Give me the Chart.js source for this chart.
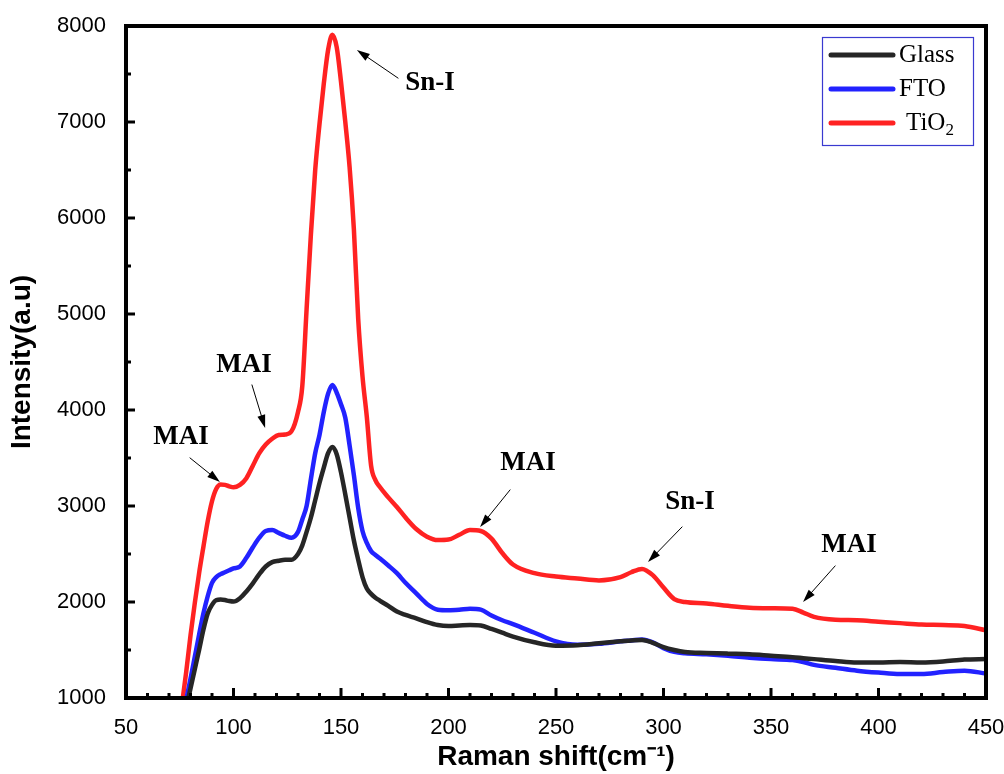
<!DOCTYPE html>
<html>
<head>
<meta charset="utf-8">
<title>Raman spectra</title>
<script src="https://cdn.jsdelivr.net/npm/chart.js@4.4.1/dist/chart.umd.min.js"></script>
<style>
  html, body { margin: 0; padding: 0; background: #fff; }
  #wrap { width: 1004px; height: 774px; }
</style>
</head>
<body>
<div id="wrap"><canvas id="raman" width="1004" height="774"></canvas></div>
<script>
// Raman shift (cm-1)
var shift = [76, 78, 80, 82, 84, 86, 88, 90, 92, 94, 96, 98, 100,
    103, 106, 109, 112, 115, 118, 121, 124, 127, 130,
    132, 134, 136, 138, 140, 142, 144, 146, 148, 150, 152, 154, 156, 158, 160, 162, 164, 166, 168,
    172, 176, 180,
    185, 190, 195, 200, 205, 210, 215, 220, 225, 230,
    240, 250, 260, 270, 280,
    285, 290, 295, 300, 305, 310,
    320, 330, 340, 350, 360,
    365, 370,
    380, 390, 400, 410, 420, 430, 440, 450];

var glass = [700, 900, 1100, 1300, 1500, 1710, 1880, 1970, 2020, 2025, 2020, 2010, 2005,
    2040, 2110, 2195, 2290, 2370, 2415, 2430, 2440, 2440, 2500,
    2590, 2730, 2880, 3060, 3240, 3400, 3550, 3615, 3540, 3350, 3120, 2880, 2640, 2440, 2260, 2140, 2085, 2045, 2015,
    1960, 1900, 1865,
    1830, 1790, 1760, 1750, 1755, 1760, 1755, 1720, 1680, 1640,
    1580, 1545, 1550, 1570, 1590,
    1600, 1605, 1575, 1530, 1500, 1480,
    1470, 1462, 1455, 1440, 1425,
    1415, 1405,
    1385, 1370, 1370, 1375, 1370, 1380, 1400, 1405];

var fto = [750, 980, 1200, 1430, 1660, 1880, 2060, 2200, 2260, 2290, 2310, 2330, 2350,
    2370, 2460, 2570, 2670, 2740, 2750, 2720, 2690, 2670, 2730,
    2860, 3000, 3280, 3550, 3740, 3980, 4170, 4260, 4180, 4060, 3920, 3630, 3320, 2980, 2740, 2615, 2530, 2490, 2455,
    2380, 2300, 2200,
    2090, 1980, 1920, 1915, 1920, 1930, 1920, 1860, 1810, 1770,
    1680, 1590, 1555, 1565, 1590,
    1600, 1610, 1580, 1520, 1480, 1465,
    1455, 1440, 1420, 1405, 1395,
    1375, 1345,
    1315, 1285, 1265, 1250, 1250, 1270, 1285, 1255];

var tio2 = [930, 1270, 1650, 1990, 2300, 2575, 2840, 3050, 3180, 3225, 3220, 3205, 3195,
    3220, 3290, 3420, 3550, 3640, 3700, 3740, 3745, 3780, 3980,
    4250, 5050, 5830, 6500, 6980, 7400, 7750, 7910, 7780, 7420, 7000, 6530, 5880, 4950, 4350, 3930, 3420, 3270, 3200,
    3090, 2990, 2880,
    2760, 2680, 2645, 2650, 2700, 2750, 2740, 2660, 2510, 2390,
    2300, 2265, 2245, 2225, 2260,
    2310, 2345, 2280, 2150, 2030, 2000,
    1985, 1960, 1940, 1935, 1930,
    1890, 1845,
    1815, 1810, 1795, 1780, 1765, 1760, 1750, 1705];

var seriesNames = ["Glass", "FTO", "TiO2"];
var seriesColors = ["#262626", "#2222ff", "#ff2222"];

// peak labels: text position and arrow tail/head, in data units
var notes = [
    { text: "Sn-I", tx: 191.4, ty: 7406, x1: 176.5, y1: 7458, x2: 157.4, y2: 7750 },
    { text: "MAI", tx: 75.6, ty: 3719, x1: 79.8, y1: 3500, x2: 93.7, y2: 3250 },
    { text: "MAI", tx: 104.9, ty: 4469, x1: 108.6, y1: 4260, x2: 114.7, y2: 3813 },
    { text: "MAI", tx: 237, ty: 3448, x1: 228.6, y1: 3167, x2: 214.7, y2: 2781 },
    { text: "Sn-I", tx: 312.3, ty: 3042, x1: 308.6, y1: 2781, x2: 292.8, y2: 2417 },
    { text: "MAI", tx: 386.3, ty: 2594, x1: 379.8, y1: 2375, x2: 364.9, y2: 2000 }
];

function pts(vals) {
    return shift.map(function (s, i) { return { x: s, y: vals[i] }; });
}

var frame = {
    id: "frame",
    afterDatasetsDraw: function (chart) {
        var ctx = chart.ctx, a = chart.chartArea;
        var xs = chart.scales.x, ys = chart.scales.y;
        ctx.save();
        ctx.strokeStyle = "#000";

        // inward ticks on the left and bottom axes
        ctx.lineWidth = 3;
        var v, p, len;
        for (v = 1000; v <= 8000; v += 500) {
            p = ys.getPixelForValue(v);
            len = v % 1000 === 0 ? 9 : 5;
            ctx.beginPath(); ctx.moveTo(a.left, p); ctx.lineTo(a.left + len, p); ctx.stroke();
        }
        for (v = 50; v <= 450; v += 10) {
            p = xs.getPixelForValue(v);
            len = v % 50 === 0 ? 10 : 5;
            ctx.beginPath(); ctx.moveTo(p, a.bottom); ctx.lineTo(p, a.bottom - len); ctx.stroke();
        }

        ctx.lineWidth = 4;
        ctx.lineCap = "square";
        ctx.strokeRect(a.left, a.top, a.right - a.left, a.bottom - a.top);

        // arrows and labels
        ctx.fillStyle = "#000";
        ctx.font = "bold 27px 'Liberation Serif', serif";
        ctx.textAlign = "center";
        ctx.textBaseline = "middle";
        notes.forEach(function (n) {
            ctx.fillText(n.text, xs.getPixelForValue(n.tx), ys.getPixelForValue(n.ty));
            var x1 = xs.getPixelForValue(n.x1), y1 = ys.getPixelForValue(n.y1);
            var x2 = xs.getPixelForValue(n.x2), y2 = ys.getPixelForValue(n.y2);
            var ang = Math.atan2(y2 - y1, x2 - x1);
            ctx.lineWidth = 1;
            ctx.beginPath(); ctx.moveTo(x1, y1);
            ctx.lineTo(x2 - 10 * Math.cos(ang), y2 - 10 * Math.sin(ang)); ctx.stroke();
            ctx.beginPath();
            ctx.moveTo(x2, y2);
            ctx.lineTo(x2 - 13 * Math.cos(ang) + 4 * Math.sin(ang), y2 - 13 * Math.sin(ang) - 4 * Math.cos(ang));
            ctx.lineTo(x2 - 13 * Math.cos(ang) - 4 * Math.sin(ang), y2 - 13 * Math.sin(ang) + 4 * Math.cos(ang));
            ctx.closePath(); ctx.fill();
        });

        // legend box
        ctx.lineWidth = 1.2;
        ctx.strokeStyle = "#3a3ad0";
        ctx.strokeRect(822.5, 37.5, 151, 108);
        ctx.textAlign = "left";
        ctx.font = "25px 'Liberation Serif', serif";
        seriesNames.forEach(function (name, i) {
            var y = 55 + i * 34;
            ctx.strokeStyle = seriesColors[i];
            ctx.lineWidth = 5;
            ctx.lineCap = "round";
            ctx.beginPath(); ctx.moveTo(831, y); ctx.lineTo(893, y); ctx.stroke();
            ctx.fillStyle = "#000";
            if (name === "TiO2") {
                ctx.fillText("TiO", 906, y);
                var w = ctx.measureText("TiO").width;
                ctx.font = "17px 'Liberation Serif', serif";
                ctx.fillText("2", 906 + w, y + 8);
                ctx.font = "25px 'Liberation Serif', serif";
            } else {
                ctx.fillText(name, 899, y);
            }
        });
        ctx.restore();
    }
};

var ctx = document.getElementById("raman").getContext("2d");
var ramanChart = new Chart(ctx, {
    type: "line",
    data: {
        datasets: [glass, fto, tio2].map(function (vals, i) {
            return {
                label: seriesNames[i],
                data: pts(vals),
                borderColor: seriesColors[i],
                borderWidth: 4.5,
                pointRadius: 0,
                fill: false,
                cubicInterpolationMode: "monotone"
            };
        })
    },
    options: {
        responsive: false,
        animation: false,
        layout: { padding: { top: 26, right: 18, left: 0, bottom: 0 } },
        plugins: { legend: { display: false }, tooltip: { enabled: false } },
        scales: {
            x: {
                type: "linear",
                min: 50, max: 450,
                grid: { display: false },
                border: { display: false },
                ticks: { stepSize: 50, color: "#000", padding: 9, font: { family: "'Liberation Sans', Arial", size: 22 },
                    callback: function (v) { return String(v); } },
                title: { display: true, text: "Raman shift(cm\u207B\u00B9)", color: "#000", padding: 0,
                    font: { family: "'Liberation Sans', Arial", size: 28, weight: "bold" } },
                afterFit: function (s) { s.height = 76; s.paddingLeft = 0; s.paddingRight = 0; }
            },
            y: {
                min: 1000, max: 8000,
                grid: { display: false },
                border: { display: false },
                ticks: { stepSize: 1000, color: "#000", padding: 12, font: { family: "'Liberation Sans', Arial", size: 22 },
                    callback: function (v) { return String(v); } },
                title: { display: true, text: "Intensity(a.u)", color: "#000", padding: { top: 5, bottom: 0 },
                    font: { family: "'Liberation Sans', Arial", size: 28, weight: "bold" } },
                afterFit: function (s) { s.width = 126; s.paddingTop = 0; s.paddingBottom = 0; }
            }
        }
    },
    plugins: [frame]
});
</script>
</body>
</html>
